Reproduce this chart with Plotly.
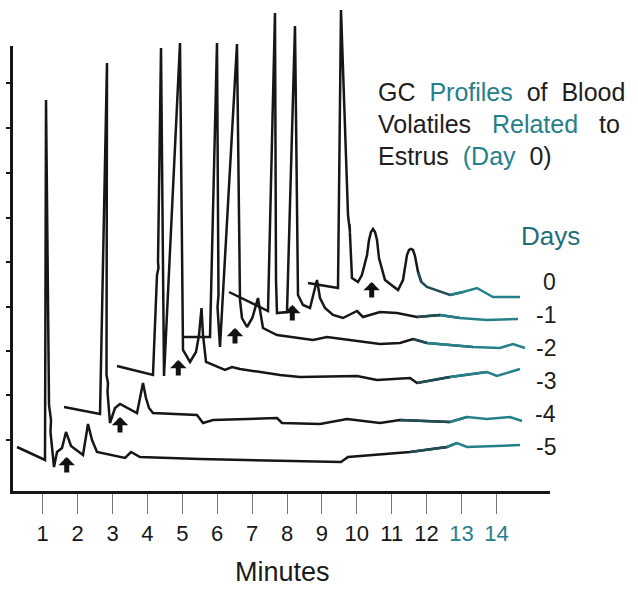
import plotly.graph_objects as go

# ---------------- data (minutes on the shared time axis, detector response in arbitrary units) ----------------
days = ["0", "-1", "-2", "-3", "-4", "-5"]

min_d0 = [8.602, 9.461, 9.547, 9.748, 9.805, 9.791, 9.862, 10.034, 10.146, 10.293, 10.350, 10.407, 10.464, 10.522,
          10.579, 10.636, 10.808, 11.181, 11.324, 11.381, 11.438, 11.496, 11.553, 11.610, 11.668, 11.754, 11.850,
          12.011, 12.670, 13.043, 13.444, 13.903, 14.676]
sig_d0 = [208, 203, 481, 276, 259, 267, 213, 209, 216, 236, 251, 259, 262, 259,
          251, 233, 211, 201, 211, 223, 236, 241, 242, 241, 235, 219, 209,
          204, 196, 199, 203, 194, 194]

min_m1 = [6.338, 7.456, 7.656, 7.699, 7.685, 7.713, 8.000, 8.229, 8.315, 8.459, 8.659, 8.859, 8.946, 9.089,
          9.318, 9.605, 10.006, 10.178, 10.665, 11.152, 11.725, 12.384, 12.957, 13.731, 14.619]
sig_m1 = [199, 180, 478, 223, 211, 178, 179, 465, 196, 186, 183, 211, 193, 183,
          176, 173, 180, 174, 179, 178, 174, 176, 173, 171, 172]

min_m2 = [5.020, 5.794, 5.994, 6.037, 6.009, 6.080, 6.567, 6.653, 6.710, 6.854, 7.006, 7.112, 7.169, 7.226,
          7.312, 7.713, 8.372, 8.745, 9.146, 10.665, 11.238, 11.610, 12.011, 13.330, 14.103, 14.476, 14.820]
sig_m2 = [154, 154, 448, 196, 184, 144, 447, 191, 173, 164, 173, 186, 193, 181,
          163, 156, 153, 151, 154, 147, 148, 152, 148, 144, 143, 147, 143]

min_m3 = [3.129, 4.160, 4.275, 4.318, 4.304, 4.390, 4.476, 4.934, 5.020, 5.221, 5.392, 5.479, 5.550, 5.593,
          5.679, 6.223, 6.424, 6.653, 7.799, 8.372, 10.006, 10.579, 11.524, 11.725, 12.670, 13.731, 14.017, 14.676]
sig_m3 = [125, 116, 216, 223, 229, 443, 115, 448, 141, 129, 139, 156, 183, 156,
          129, 121, 124, 122, 116, 114, 115, 111, 113, 108, 114, 119, 115, 122]

min_m4 = [1.610, 2.642, 2.842, 2.828, 2.871, 2.857, 2.928, 3.072, 3.215, 3.702, 3.874, 3.959, 4.046, 4.160,
          5.421, 5.593, 5.880, 7.714, 7.857, 8.946, 9.719, 10.665, 11.238, 12.670, 13.158, 13.731, 14.390, 14.734]
sig_m4 = [84, 77, 428, 116, 108, 99, 68, 83, 87, 78, 108, 93, 83, 78,
          76, 68, 71, 73, 68, 67, 72, 68, 71, 69, 74, 72, 74, 70]

min_m5 = [0.264, 1.066, 1.095, 1.181, 1.238, 1.223, 1.324, 1.410, 1.553, 1.668, 1.811, 2.155, 2.298, 2.413,
          2.556, 3.358, 3.530, 3.788, 5.507, 8.945, 9.547, 9.748, 10.951, 11.524, 12.585, 12.871, 13.158, 14.676]
sig_m5 = [44, 31, 391, 86, 71, 59, 24, 39, 43, 59, 45, 36, 67, 51,
          39, 33, 39, 34, 32, 29, 29, 34, 37, 39, 44, 48, 44, 46]

series_min = [min_d0, min_m1, min_m2, min_m3, min_m4, min_m5]
series_sig = [sig_d0, sig_m1, sig_m2, sig_m3, sig_m4, sig_m5]

# marked (arrowed) peak for each day, from day -5 to day 0
arrow_min = [1.688, 3.215, 4.885, 6.510, 8.152, 10.427]
arrow_sig = [34, 74, 131, 163, 186, 209]

tick_minutes = list(range(1, 15))
tick_labels = [str(m) for m in tick_minutes]
y_ticks = [51, 96, 140, 184, 229, 273, 318, 363, 408]

# ---------------- layout constants (pixels) ----------------
W, H = 638, 589
PX0, PXM = 7.8, 34.9          # pixel of minute 0, pixels per minute
YB = 491                      # pixel row of the time axis (response 0)
FL, FR, FT = 13, 550, 46      # frame left / right / top pixels

INK = "#161616"
TEAL = "#26808c"
DTEAL = "#1f4e54"
FONT = "Liberation Sans, Arial, Helvetica, sans-serif"

fig = go.Figure()

# colour bands along time (scan fades black -> teal on the right)
bands = [(-1, 11.8, INK), (11.8, 12.8, DTEAL), (12.8, 99, TEAL)]
for xs, ys in zip(series_min, series_sig):
    for lo, hi, col in bands:
        idx = [i for i, x in enumerate(xs) if lo <= x <= hi]
        if not idx:
            continue
        a = max(idx[0] - 1, 0)
        b = min(idx[-1] + 1, len(xs) - 1)
        fig.add_trace(go.Scatter(x=xs[a:b + 1], y=ys[a:b + 1], mode="lines",
                                 line=dict(color=col, width=2.5),
                                 xaxis="x2", yaxis="y2", showlegend=False, hoverinfo="skip"))

# dummy trace to hold the framed axes
fig.add_trace(go.Scatter(x=[None], y=[None], xaxis="x", yaxis="y", showlegend=False, hoverinfo="skip"))

ticktext = [t if m < 13 else f'<span style="color:{TEAL}">{t}</span>' for m, t in zip(tick_minutes, tick_labels)]

fig.update_layout(
    width=W, height=H,
    margin=dict(l=0, r=0, t=0, b=0),
    paper_bgcolor="white", plot_bgcolor="rgba(0,0,0,0)",
    font=dict(family=FONT, color=INK),
    showlegend=False,
    xaxis=dict(domain=[FL / W, FR / W], range=[(FL - PX0) / PXM, (FR - PX0) / PXM],
               showline=True, linecolor=INK, linewidth=3, showgrid=False, zeroline=False,
               ticks="outside", ticklen=20, tickwidth=1, tickcolor="#777",
               tickvals=tick_minutes, ticktext=ticktext, tickfont=dict(size=22, color=INK),
               ticklabelstandoff=1, anchor="y", fixedrange=True),
    yaxis=dict(domain=[1 - YB / H, 1 - FT / H], range=[0, YB - FT],
               showline=True, linecolor=INK, linewidth=3, showgrid=False, zeroline=False,
               ticks="outside", ticklen=4, tickwidth=2, tickcolor=INK,
               tickvals=y_ticks, showticklabels=False, anchor="x", fixedrange=True),
    xaxis2=dict(domain=[0, 1], range=[(0 - PX0) / PXM, (W - PX0) / PXM], visible=False,
                anchor="y2", fixedrange=True),
    yaxis2=dict(domain=[0, 1], range=[YB - H, YB], visible=False, anchor="x2", fixedrange=True),
)

# arrows marking the peak of interest
for xm, ys in zip(arrow_min, arrow_sig):
    fig.add_annotation(x=xm, y=ys, xref="x2", yref="y2", text="", showarrow=True,
                       ax=0, ay=17, arrowhead=1, arrowsize=0.55, arrowwidth=5, arrowcolor="#111")

# day labels on the right
for i, d in enumerate(days):
    fig.add_annotation(x=558 / W, y=1 - (282 + 33 * i) / H, xref="paper", yref="paper",
                       text=d, showarrow=False, xanchor="right", yanchor="middle",
                       font=dict(size=23, color="#1c1c1c"))

fig.add_annotation(x=550 / W, y=1 - 236 / H, xref="paper", yref="paper", text="Days",
                   showarrow=False, xanchor="center", yanchor="middle",
                   font=dict(size=26, color="#1f6f7a"))

sp = "\u00a0"
lines = [
    f'GC {sp}<span style="color:{TEAL}">Profiles</span> {sp}of {sp}Blood',
    f'Volatiles {sp}{sp}<span style="color:{TEAL}">Related</span> {sp}{sp}to',
    f'Estrus {sp}<span style="color:{TEAL}">(Day</span> {sp}0)',
]
for k, t in enumerate(lines):
    fig.add_annotation(x=376 / W, y=1 - (92 + 32 * k) / H, xref="paper", yref="paper",
                       text=t, showarrow=False, xanchor="left", yanchor="middle",
                       font=dict(size=25, color="#1e1e1e"))

fig.add_annotation(x=282 / W, y=1 - 572 / H, xref="paper", yref="paper", text="Minutes",
                   showarrow=False, xanchor="center", yanchor="middle",
                   font=dict(size=27, color="#1a1a1a"))

fig.write_html("out.html")
